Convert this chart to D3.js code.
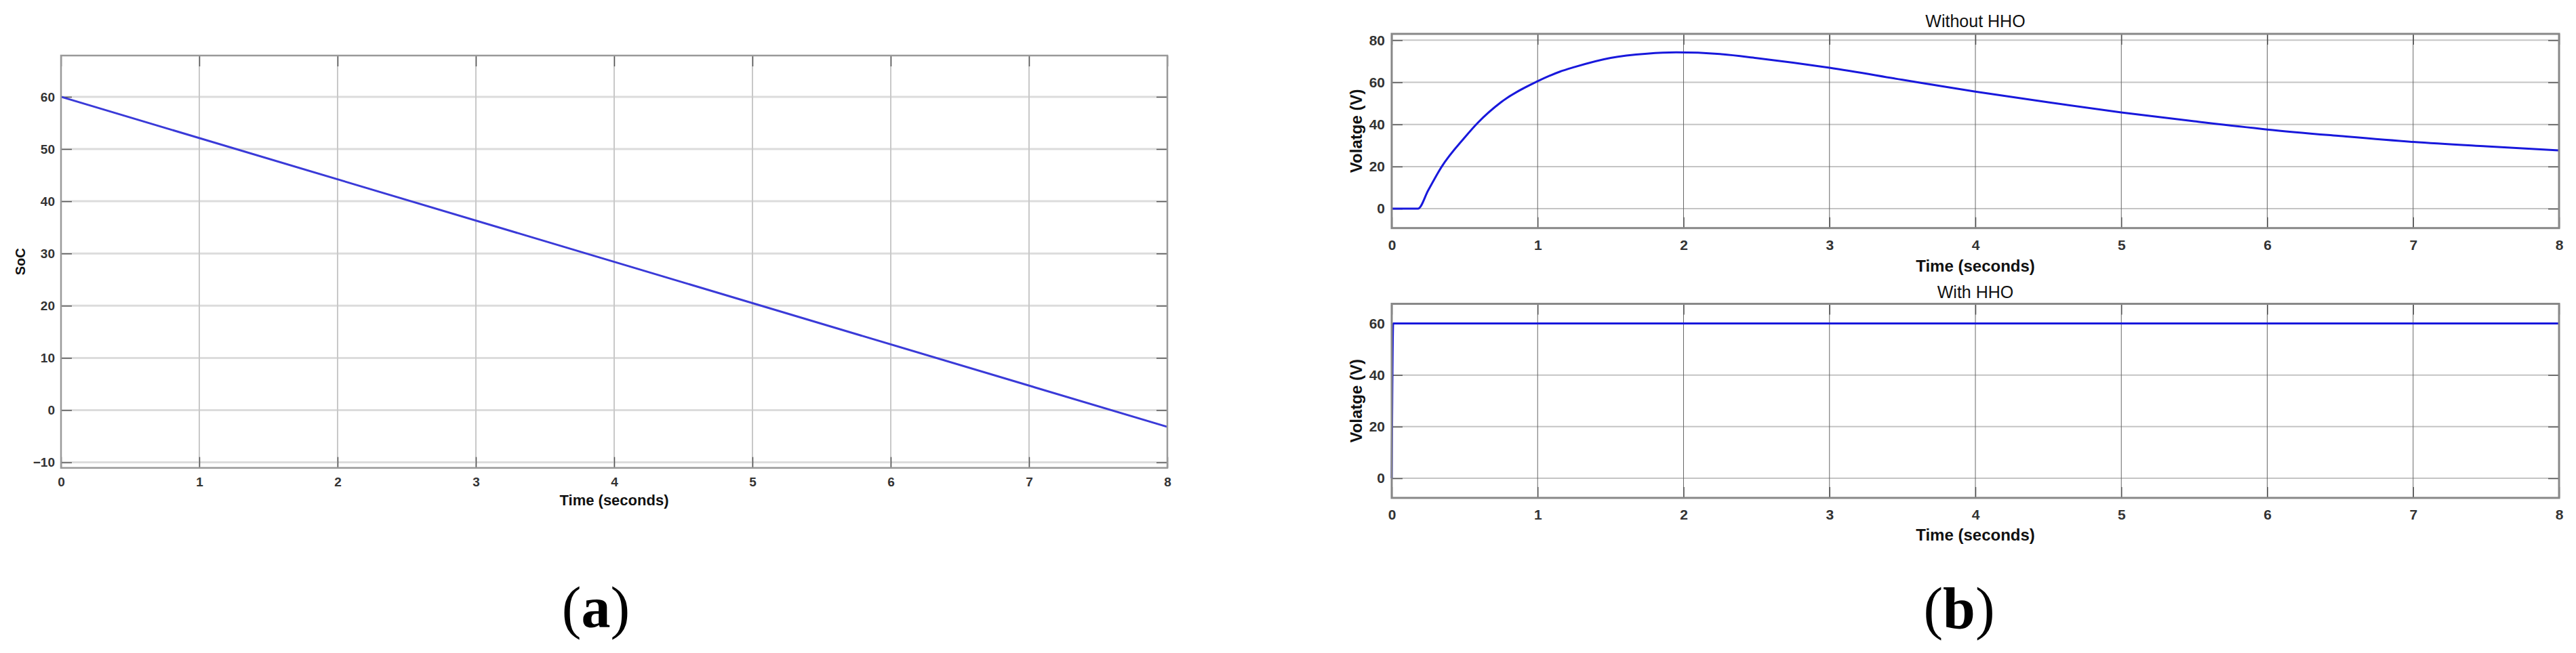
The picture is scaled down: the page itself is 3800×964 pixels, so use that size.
<!DOCTYPE html>
<html>
<head>
<meta charset="utf-8">
<script src="https://cdn.jsdelivr.net/npm/d3@7"></script>
<style>
  body { margin: 0; background: #fff; }
  svg { display: block; font-family: "Liberation Sans", Arial, sans-serif; }
</style>
</head>
<body>
<svg id="chart" width="3800" height="964"></svg>
<script>
// values
const timeTicks = [0, 1, 2, 3, 4, 5, 6, 7, 8];
const socTicks = [-10, 0, 10, 20, 30, 40, 50, 60];
const voltTicksTop = [0, 20, 40, 60, 80];
const voltTicksBottom = [0, 20, 40, 60];

const socTime = [0, 8];
const socValues = [60, -3.2];

const noHhoTime = [0, 0.18, 0.25, 0.34, 0.5, 0.59, 0.75, 1.0, 1.15, 1.25, 1.5, 1.75, 1.95, 2.25, 2.5, 3, 3.5, 4, 4.5, 5, 5.5, 6, 6.5, 7, 7.5, 8];
const noHhoVolt = [0, 0, 8.7, 19.7, 33.8, 40.8, 50.6, 60.5, 65, 67.2, 71.6, 73.6, 74.2, 73.4, 71.5, 66.9, 61.2, 55.6, 50.5, 45.7, 41.5, 37.6, 34.5, 31.7, 29.6, 27.7];

const hhoTime = [0, 0.01, 8];
const hhoVolt = [0, 60, 60];

const svg = d3.select("#chart");

function drawPanel(p) {
  const w = p.x1 - p.x0, h = p.y1 - p.y0;
  const x = d3.scaleLinear().domain([0, 8]).range([0, w]);
  const y = d3.scaleLinear().domain(p.yDomain).range([h, 0]);
  const g = svg.append("g").attr("transform", `translate(${p.x0},${p.y0})`);

  // grid
  g.append("g").selectAll("line").data(p.yTicks).join("line")
    .attr("x1", 0).attr("x2", w)
    .attr("y1", d => y(d)).attr("y2", d => y(d))
    .attr("stroke", p.hGrid).attr("stroke-width", p.hGridW);
  g.append("g").selectAll("line").data(timeTicks).join("line")
    .attr("x1", d => x(d)).attr("x2", d => x(d))
    .attr("y1", 0).attr("y2", h)
    .attr("stroke", p.vGrid).attr("stroke-width", p.vGridW);

  // inward ticks on all four sides
  const tl = p.tickLen;
  const bottom = g.append("g").attr("transform", `translate(0,${h})`)
    .call(d3.axisBottom(x).tickValues(timeTicks).tickSizeInner(-tl).tickSizeOuter(0).tickPadding(p.xPad));
  const left = g.append("g")
    .call(d3.axisLeft(y).tickValues(p.yTicks).tickSizeInner(-tl).tickSizeOuter(0).tickPadding(p.yPad));
  g.append("g").call(d3.axisTop(x).tickValues(timeTicks).tickSizeInner(-tl).tickSizeOuter(0).tickFormat(""));
  g.append("g").attr("transform", `translate(${w},0)`)
    .call(d3.axisRight(y).tickValues(p.yTicks).tickSizeInner(-tl).tickSizeOuter(0).tickFormat(""));
  g.selectAll(".domain").remove();
  g.selectAll(".tick line").attr("stroke", "#555").attr("stroke-width", 1.5);
  [bottom, left].forEach(a => a.selectAll("text")
    .attr("font-size", p.tickFont).attr("font-weight", "bold").attr("fill", "#333")
    .attr("font-family", "Liberation Sans, Arial, sans-serif"));

  // line
  const line = d3.line().x(d => x(d[0])).y(d => y(d[1])).curve(d3.curveMonotoneX);
  g.append("path")
    .datum(d3.zip(p.t, p.v))
    .attr("d", line)
    .attr("fill", "none")
    .attr("stroke", p.lineColor)
    .attr("stroke-width", 3);

  // frame
  g.append("rect").attr("width", w).attr("height", h)
    .attr("fill", "none").attr("stroke", p.frame).attr("stroke-width", p.frameW);

  // labels
  g.append("text")
    .attr("x", w / 2).attr("y", p.xLabelY - p.y0)
    .attr("text-anchor", "middle").attr("dominant-baseline", "middle")
    .attr("font-size", p.labelFont).attr("font-weight", "bold").attr("fill", "#111")
    .text("Time (seconds)");
  g.append("text")
    .attr("transform", `translate(${p.yLabelX - p.x0},${h / 2}) rotate(-90)`)
    .attr("text-anchor", "middle").attr("dominant-baseline", "middle")
    .attr("font-size", p.yLabelFont).attr("font-weight", "bold").attr("fill", "#111")
    .text(p.yLabel);
  if (p.title) {
    g.append("text")
      .attr("x", w / 2).attr("y", p.titleY - p.y0)
      .attr("text-anchor", "middle").attr("dominant-baseline", "middle")
      .attr("font-size", 25).attr("fill", "#111")
      .text(p.title);
  }
}

// (a) SoC
drawPanel({
  x0: 90, x1: 1722, y0: 82, y1: 690.7,
  yDomain: [-11.05, 67.9], yTicks: socTicks,
  t: socTime, v: socValues,
  hGrid: "#dcdcdc", hGridW: 3, vGrid: "#c8c8c8", vGridW: 2,
  frame: "#999", frameW: 2.5, tickLen: 16,
  xPad: 14, yPad: 9, tickFont: 19, labelFont: 22,
  xLabelY: 740, yLabelX: 32, yLabel: "SoC", yLabelFont: 20,
  lineColor: "#3a3ad8"
});

// (b) top: without HHO
drawPanel({
  x0: 2053, x1: 3775, y0: 50, y1: 336.7,
  yDomain: [-9.2, 83], yTicks: voltTicksTop,
  t: noHhoTime, v: noHhoVolt,
  hGrid: "#c4c4c4", hGridW: 2, vGrid: "#666", vGridW: 1,
  frame: "#888", frameW: 3, tickLen: 16,
  xPad: 17.5, yPad: 10, tickFont: 21, labelFont: 24,
  xLabelY: 395, yLabelX: 2003, yLabel: "Volatge (V)", yLabelFont: 24,
  title: "Without HHO", titleY: 33,
  lineColor: "#1818dc"
});

// (b) bottom: with HHO
drawPanel({
  x0: 2053, x1: 3775, y0: 448.5, y1: 735,
  yDomain: [-7.6, 67.6], yTicks: voltTicksBottom,
  t: hhoTime, v: hhoVolt,
  hGrid: "#c4c4c4", hGridW: 2, vGrid: "#666", vGridW: 1,
  frame: "#888", frameW: 3, tickLen: 16,
  xPad: 17.5, yPad: 10, tickFont: 21, labelFont: 24,
  xLabelY: 792, yLabelX: 2003, yLabel: "Volatge (V)", yLabelFont: 24,
  title: "With HHO", titleY: 433,
  lineColor: "#1818dc"
});

// sub-figure captions
[["a", 879, 926], ["b", 2890, 927]].forEach(([c, cx, cy]) => {
  const t = svg.append("text")
    .attr("x", cx).attr("y", cy)
    .attr("text-anchor", "middle")
    .attr("font-family", "Liberation Serif, Times New Roman, serif")
    .attr("font-size", 86).attr("fill", "#000");
  t.append("tspan").text("(");
  t.append("tspan").attr("font-weight", "bold").text(c);
  t.append("tspan").text(")");
});
</script>
</body>
</html>
